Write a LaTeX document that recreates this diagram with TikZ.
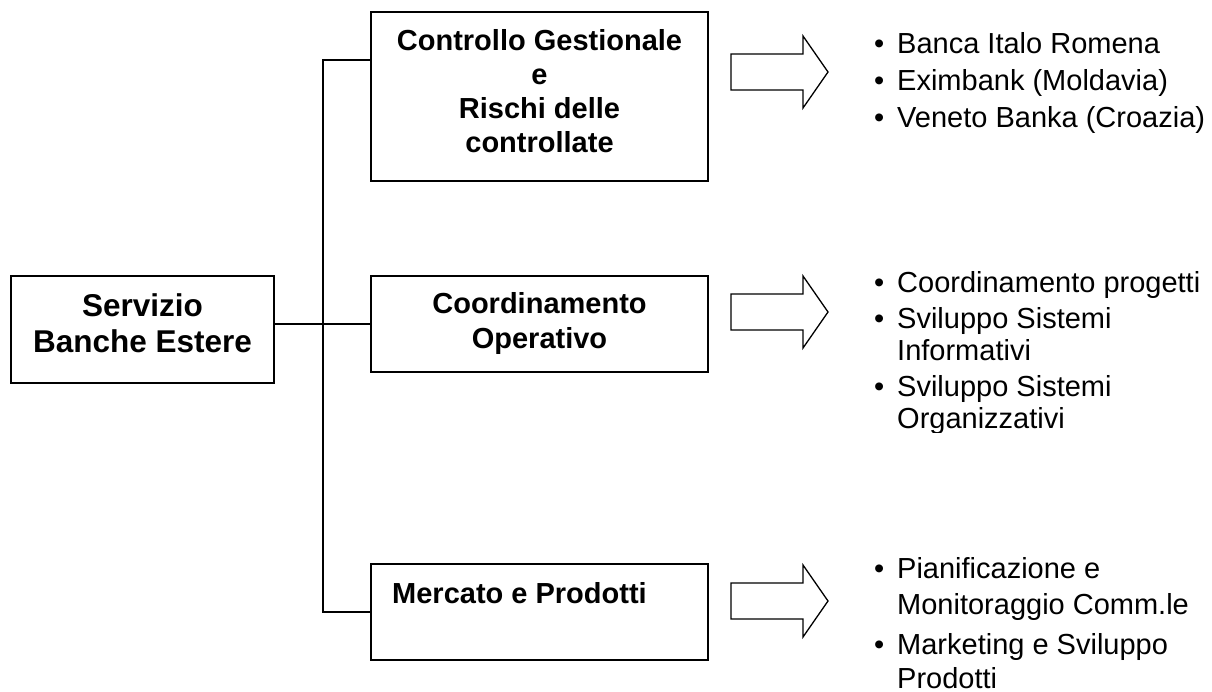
\documentclass[tikz,border=0pt]{standalone}
\usepackage{fontspec}
\setmainfont{Liberation Sans}
\begin{document}
\begin{tikzpicture}[x=1pt,y=-1pt,
  box/.style={draw, line width=1.5pt, inner sep=0pt, rectangle},
  btext/.style={font=\fontsize{29}{34}\selectfont\bfseries, align=center, inner sep=0pt, anchor=base},
  ltext/.style={font=\fontsize{29}{36}\selectfont, align=left, inner sep=0pt, anchor=base west},
  conn/.style={line width=1.5pt},
  blockarrow/.pic={\draw[line width=1.3pt, line join=miter] (0,-18) -- (72,-18) -- (72,-36) -- (97,0) -- (72,36) -- (72,18) -- (0,18) -- cycle;}
]
\useasboundingbox[fill=white] (0,0) rectangle (1212,691);

% boxes
\node[box, minimum width=263pt, minimum height=107pt] (serv) at (142.5,329.5) {};
\node[box, minimum width=337pt, minimum height=169pt] (ctrl) at (539.5,96.5) {};
\node[box, minimum width=337pt, minimum height=96pt] (coord) at (539.5,324) {};
\node[box, minimum width=337pt, minimum height=96pt] (merc) at (539.5,612) {};

% box texts (anchor base = baseline of the last line)
\node[btext, font=\fontsize{31.5}{36}\selectfont\bfseries] (servt) at (142.5,352) {Servizio\\Banche Estere};
\node[btext, font=\fontsize{29}{33.7}\selectfont\bfseries] (ctrlt) at (539.5,152) {Controllo Gestionale\\e\\Rischi delle\\controllate};
\node[btext, font=\fontsize{29}{35}\selectfont\bfseries] (coordt) at (539.5,348) {Coordinamento\\Operativo};
\node[btext, anchor=base west] (merct) at (392,603) {Mercato e Prodotti};

% connectors
\coordinate (jt) at (323,60);
\coordinate (jb) at (323,612);
\draw[conn] (serv.east |- coord.west) -- (coord.west);
\draw[conn] (ctrl.west |- jt) -- (jt) -- (jb) -- (merc.west);

% block arrows
\pic at (731,72) {blockarrow};
\pic at (731,312) {blockarrow};
\pic at (731,601) {blockarrow};

% lists
\node[ltext] (b1) at (897,53) {\llap{\textbullet\hspace{13pt}}Banca Italo Romena};
\node[ltext] (b2) at (897,90) {\llap{\textbullet\hspace{13pt}}Eximbank (Moldavia)};
\node[ltext] (b3) at (897,127) {\llap{\textbullet\hspace{13pt}}Veneto Banka (Croazia)};

\begin{scope}
\clip (840,250) rectangle (1212,432);
\node[ltext] (m1) at (897,292) {\llap{\textbullet\hspace{13pt}}Coordinamento progetti};
\node[ltext, font=\fontsize{29}{32}\selectfont] (m2) at (897,360) {\llap{\textbullet\hspace{13pt}}Sviluppo Sistemi\\Informativi};
\node[ltext, font=\fontsize{29}{32}\selectfont] (m3) at (897,428) {\llap{\textbullet\hspace{13pt}}Sviluppo Sistemi\\Organizzativi};
\end{scope}

\node[ltext, font=\fontsize{29}{36}\selectfont] (p1) at (897,614) {\llap{\textbullet\hspace{13pt}}Pianificazione e\\Monitoraggio Comm.le};
\node[ltext, font=\fontsize{29}{34}\selectfont] (p2) at (897,688) {\llap{\textbullet\hspace{13pt}}Marketing e Sviluppo\\Prodotti};
\end{tikzpicture}
\end{document}
